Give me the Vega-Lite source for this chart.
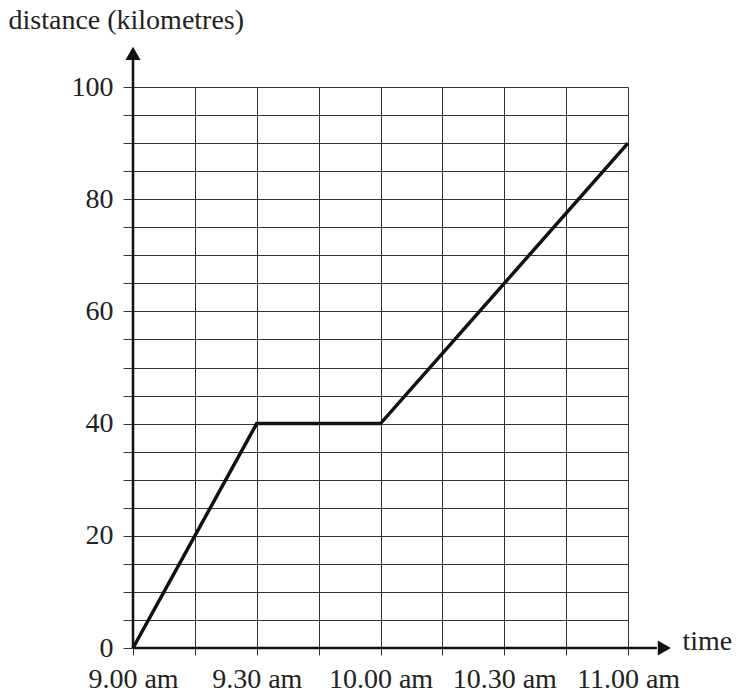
{
  "$schema": "https://vega.github.io/schema/vega-lite/v6.json",
  "width": 495,
  "height": 561,
  "autosize": "none",
  "padding": {"left": 133, "top": 87, "right": 109, "bottom": 45},
  "background": "white",
  "config": {
    "view": {"stroke": null},
    "font": "Liberation Serif",
    "axis": {
      "labelFontSize": 28,
      "titleFontSize": 28,
      "labelColor": "#222",
      "titleColor": "#222",
      "titleFontWeight": "normal",
      "gridColor": "#333",
      "gridWidth": 1,
      "gridOpacity": 1,
      "tickColor": "#333",
      "tickWidth": 1,
      "domain": false
    }
  },
  "datasets": {
    "journey": [
      {"minutes": 0, "distance": 0},
      {"minutes": 30, "distance": 40},
      {"minutes": 60, "distance": 40},
      {"minutes": 120, "distance": 90}
    ],
    "yaxisline": [{"minutes": 0, "distance": 0, "distance2": 105}],
    "xaxisline": [{"minutes": 0, "minutes2": 127, "distance": 0}],
    "arrows": [
      {"minutes": 0, "distance": 106, "shape": "triangle-up"},
      {"minutes": 128.8, "distance": 0, "shape": "triangle-right"}
    ]
  },
  "encoding": {
    "x": {
      "field": "minutes",
      "type": "quantitative",
      "scale": {"domain": [0, 120], "nice": false, "zero": false},
      "axis": {
        "values": [0, 15, 30, 45, 60, 75, 90, 105, 120],
        "labelExpr": "datum.value % 30 == 0 ? floor((540 + datum.value) / 60) + '.' + (datum.value % 60 == 0 ? '00' : '30') + ' am' : ''",
        "labelFont": "Liberation Serif",
        "titleFont": "Liberation Serif",
        "tickSize": 7,
        "labelPadding": 10,
        "labelOverlap": false,
        "labelFlush": false,
        "title": "time",
        "titleX": 549,
        "titleY": 1,
        "titleAlign": "left",
        "titleBaseline": "alphabetic",
        "titleAnchor": null
      }
    },
    "y": {
      "field": "distance",
      "type": "quantitative",
      "scale": {"domain": [0, 100], "nice": false},
      "axis": {
        "tickCount": 20,
        "tickMinStep": 5,
        "labelExpr": "datum.value % 20 == 0 ? datum.label : ''",
        "labelFont": "Liberation Serif",
        "titleFont": "Liberation Serif",
        "tickSize": 10,
        "labelPadding": 10,
        "labelOverlap": false,
        "labelFlush": false,
        "title": "distance (kilometres)",
        "titleAngle": 0,
        "titleX": -125,
        "titleY": -59,
        "titleAlign": "left",
        "titleBaseline": "alphabetic",
        "titleAnchor": null
      }
    }
  },
  "layer": [
    {
      "data": {"name": "journey"},
      "mark": {"type": "line", "color": "#111", "strokeWidth": 3.5, "strokeJoin": "miter"}
    },
    {
      "data": {"name": "yaxisline"},
      "mark": {"type": "rule", "color": "#111", "strokeWidth": 2.5},
      "encoding": {
        "y2": {"field": "distance2"}
      }
    },
    {
      "data": {"name": "xaxisline"},
      "mark": {"type": "rule", "color": "#111", "strokeWidth": 2.5},
      "encoding": {
        "x2": {"field": "minutes2"}
      }
    },
    {
      "data": {"name": "arrows"},
      "mark": {"type": "point", "filled": true, "color": "#111", "opacity": 1, "size": 230},
      "encoding": {
        "shape": {"field": "shape", "type": "nominal", "scale": null, "legend": null}
      }
    }
  ]
}
